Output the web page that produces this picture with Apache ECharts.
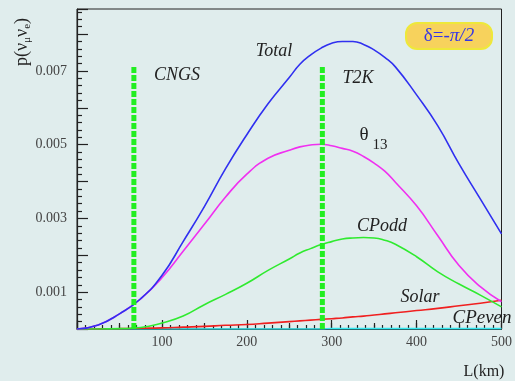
<!DOCTYPE html>
<html><head><meta charset="utf-8">
<script src="https://cdn.jsdelivr.net/npm/echarts@6/dist/echarts.min.js"></script>
<style>html,body{margin:0;padding:0;background:#e0eded;}#c{width:515px;height:381px;}</style>
</head><body><div id="c"></div>
<script>
// Baseline L (km)
var L = [0,25,50,75,100,125,150,175,200,225,250,262.5,275,287.5,300,312.5,325,337.5,350,362.5,375,400,425,450,475,500];
var total   = [0,0.00011,0.00041,0.00082,0.00145,0.00237,0.00332,0.00435,0.00527,0.00611,0.00682,0.00718,0.00743,0.00762,0.00775,0.0078,0.0078,0.00772,0.00757,0.00737,0.00711,0.00635,0.00551,0.00448,0.00353,0.00258];
var theta13 = [0,0.00011,0.00041,0.00082,0.00139,0.00211,0.00284,0.00358,0.0042,0.00463,0.00485,0.00494,0.00499,0.00501,0.00497,0.0049,0.00482,0.00468,0.0045,0.00428,0.00398,0.00334,0.00253,0.00172,0.00115,0.00074];
var cpOdd   = [0,0,0.00001,0.00004,0.00016,0.00035,0.00066,0.00094,0.00124,0.00159,0.0019,0.00206,0.00218,0.00229,0.00237,0.00244,0.00247,0.00248,0.00247,0.00241,0.0023,0.00196,0.00155,0.00122,0.00092,0.0006];
var solar   = [0,0.000003,0.00001,0.00002,0.00003,0.00005,0.00007,0.0001,0.00012,0.00016,0.0002,0.00022,0.00024,0.00026,0.00028,0.0003,0.00033,0.00035,0.00038,0.00041,0.00044,0.0005,0.00056,0.00063,0.0007,0.00078];
var cpEven  = [0,0,0,0,0,0,0,0,0,0,0,0,0,0,0.00001,0.00001,0.00001,0.00001,0.00001,0.00001,0.00001,0.00001,0.00001,0.00001,0.00001,0.00001];
var experiments = ['CNGS','T2K'];
var expL = [67, 289];
var expTop = 0.00713;
var xTicks = [100,200,300,400,500];
var yTickLabels = [0.001,0.003,0.005,0.007];

function pairs(ys){ return L.map(function(x,i){ return [x, ys[i]]; }); }
var serif = '"Liberation Serif","DejaVu Serif",serif';
function curve(name, ys, color){
  return {name:name, type:'line', data:pairs(ys), smooth:0.5, symbol:'none', z:3,
    lineStyle:{color:color, width:1.6}};
}
var series = [
  curve('CPeven', cpEven, '#33e8f0'),
  curve('Solar', solar, '#f02020'),
  curve('CPodd', cpOdd, '#30ea30'),
  curve('theta13', theta13, '#f030f0'),
  curve('Total', total, '#3030f0')
];
experiments.forEach(function(n,i){
  series.push({name:n, type:'line', data:[[expL[i],0],[expL[i],expTop]], symbol:'none', z:5,
    lineStyle:{color:'#22ee22', width:5, type:[6,2]}});
});

var chart = echarts.init(document.getElementById('c'));
chart.setOption({
  backgroundColor:'#e0eded',
  animation:false,
  grid:{left:77, right:9, top:9, bottom:52, show:true, borderColor:'#222', borderWidth:1, backgroundColor:'transparent'},
  xAxis:[{type:'value', min:0, max:500, interval:100,
    axisLine:{lineStyle:{color:'#222', width:1.2}},
    axisTick:{inside:true, length:9, lineStyle:{color:'#222', width:1.2}},
    minorTick:{show:true, splitNumber:10, length:4, lineStyle:{color:'#222', width:1.2}},
    splitLine:{show:false},
    axisLabel:{margin:6, fontFamily:serif, fontSize:14, color:'#444',
      formatter:function(v){ return xTicks.indexOf(v)>=0 ? String(v) : ''; }}
  },{type:'value', min:0, max:500, interval:50, position:'bottom',
    axisLine:{show:false}, axisLabel:{show:false}, splitLine:{show:false},
    axisTick:{inside:true, length:6, lineStyle:{color:'#222', width:1.2}}}],
  yAxis:{type:'value', min:0, max:0.00868, interval:0.001,
    axisLine:{lineStyle:{color:'#222', width:1.2}},
    axisTick:{inside:true, length:11, lineStyle:{color:'#222', width:1.2}},
    minorTick:{show:true, splitNumber:5, length:5, lineStyle:{color:'#222', width:1.2}},
    splitLine:{show:false},
    axisLabel:{margin:10, fontFamily:serif, fontSize:14, color:'#444',
      formatter:function(v){
        for(var i=0;i<yTickLabels.length;i++){ if(Math.abs(v-yTickLabels[i])<1e-9) return v.toFixed(3); }
        return '';
      }}
  },
  series: series,
  graphic:[
    {type:'text', x:274, y:51, style:{text:'Total', font:'italic 18px '+serif, fill:'#222', align:'center', verticalAlign:'middle'}},
    {type:'text', x:177, y:75, style:{text:'CNGS', font:'italic 18px '+serif, fill:'#222', align:'center', verticalAlign:'middle'}},
    {type:'text', x:358, y:78, style:{text:'T2K', font:'italic 18px '+serif, fill:'#222', align:'center', verticalAlign:'middle'}},
    {type:'text', x:364, y:135, style:{text:'θ', font:'19px '+serif, fill:'#222', align:'center', verticalAlign:'middle'}},
    {type:'text', x:380, y:145, style:{text:'13', font:'15px '+serif, fill:'#222', align:'center', verticalAlign:'middle'}},
    {type:'text', x:382, y:226, style:{text:'CPodd', font:'italic 18px '+serif, fill:'#222', align:'center', verticalAlign:'middle'}},
    {type:'text', x:420, y:297, style:{text:'Solar', font:'italic 18px '+serif, fill:'#222', align:'center', verticalAlign:'middle'}},
    {type:'text', x:482, y:318, z:10, style:{text:'CPeven', font:'italic 19px '+serif, fill:'#222', align:'center', verticalAlign:'middle'}},
    {type:'text', x:484, y:372, style:{text:'L(km)', font:'16px '+serif, fill:'#222', align:'center', verticalAlign:'middle'}},
    {type:'text', x:22, y:42, rotation:Math.PI/2,
      style:{text:'{a|p(ν}{s|μ}{a|ν}{s|e}{a|)}', align:'center', verticalAlign:'middle',
        rich:{a:{font:'18px '+serif, fill:'#222', lineHeight:22, verticalAlign:'middle'},
              s:{font:'11px '+serif, fill:'#222', lineHeight:22, padding:[10,0,0,0], verticalAlign:'bottom'}}}},
    {type:'rect', shape:{x:406, y:23, width:86, height:26, r:11}, style:{fill:'#f7d25c', stroke:'#eee83a', lineWidth:2}},
    {type:'text', x:449, y:36, style:{text:'{n|δ=-}{i|π/2}', align:'center', verticalAlign:'middle',
      rich:{n:{font:'19px '+serif, fill:'#3535e6'}, i:{font:'italic 19px '+serif, fill:'#3535e6'}}}}
  ]
});
</script></body></html>
